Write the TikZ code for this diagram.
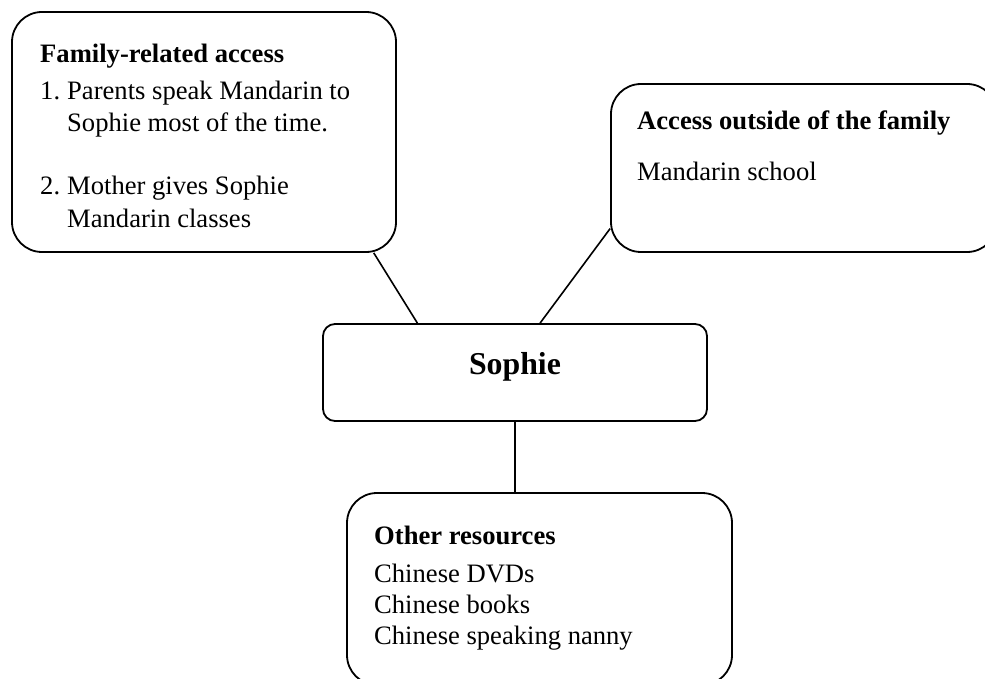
\documentclass[tikz,border=0pt]{standalone}
\usepackage{fontspec}
\setmainfont{Liberation Serif}
\usetikzlibrary{calc}
\begin{document}
\begin{tikzpicture}[x=1pt,y=-1pt,
  panel/.style={draw=black, line width=1.8pt, rounded corners=30pt, inner sep=0pt, fill=white},
  hub/.style={draw=black, line width=1.8pt, rounded corners=12pt, inner sep=0pt, fill=white},
  link/.style={draw=black, line width=1.6pt},
  txt/.style={anchor=base west, inner sep=0pt, font=\fontsize{26.6}{30}\selectfont},
  head/.style={txt, font=\fontsize{26.6}{30}\selectfont\bfseries},
  title/.style={anchor=base, inner sep=0pt, font=\fontsize{31.8}{36}\selectfont\bfseries}]
\useasboundingbox (0,0) rectangle (985,679);

% boxes
\node[panel, minimum width=384pt, minimum height=240pt] (fam) at (204,132) {};
\node[panel, minimum width=386pt, minimum height=168pt] (out) at (804,168) {};
\node[hub, minimum width=384pt, minimum height=97pt] (sophie) at (515,372.5) {};
\node[panel, minimum width=385pt, minimum height=192pt] (other) at (539.5,589) {};

% connectors
\draw[link] ($(fam.south west)!0.94!(fam.south east)$) -- ($(sophie.north west)!0.247!(sophie.north east)$);
\draw[link] ($(out.north west)!0.857!(out.south west)$) -- ($(sophie.north west)!0.565!(sophie.north east)$);
\draw[link] (sophie.south) -- (sophie.south |- other.north);

% family-related access
\node[head] (famh) at (40,63) {Family-related access};
\node[txt] (f1n) at (40,100) {1.};
\node[txt] (f1a) at (67,100) {Parents speak Mandarin to};
\node[txt] (f1b) at (67,132) {Sophie most of the time.};
\node[txt] (f2n) at (40,195) {2.};
\node[txt] (f2a) at (67,195) {Mother gives Sophie};
\node[txt] (f2b) at (67,227) {Mandarin classes};

% access outside of the family
\node[head] (outh) at (637,130) {Access outside of the family};
\node[txt] (out1) at (637,181) {Mandarin school};

% centre
\node[title] (sophiet) at (515,374) {Sophie};

% other resources
\node[head] (othh) at (374,544) {Other resources};
\node[txt] (oth1) at (374,582) {Chinese DVDs};
\node[txt] (oth2) at (374,613) {Chinese books};
\node[txt] (oth3) at (374,644) {Chinese speaking nanny};
\end{tikzpicture}
\end{document}
